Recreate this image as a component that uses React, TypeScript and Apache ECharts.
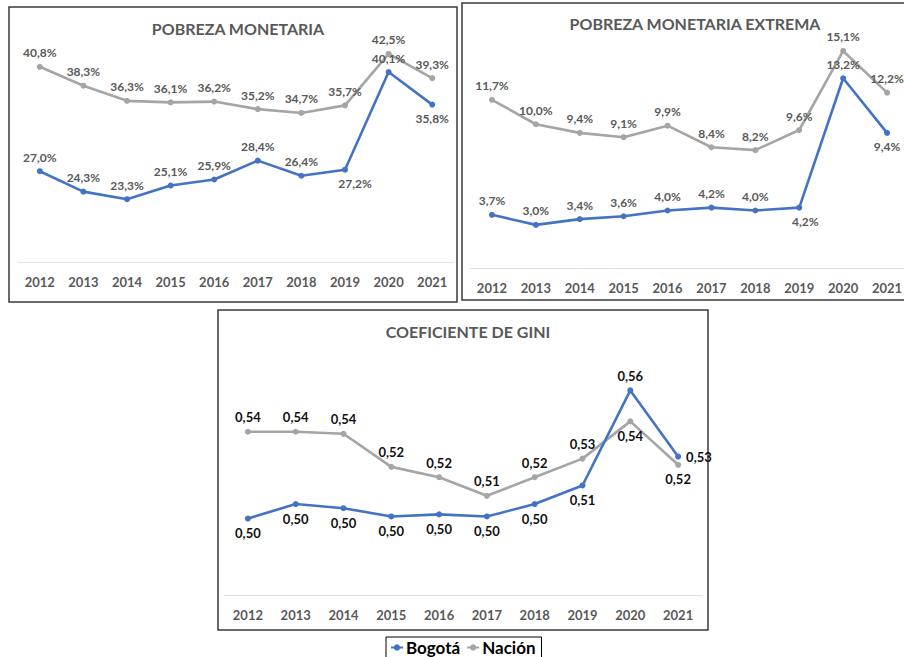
import React, { useEffect, useRef } from "react";
import * as echarts from "echarts";

const years = ["2012", "2013", "2014", "2015", "2016", "2017", "2018", "2019", "2020", "2021"];
const pobrezaBogota = [27.0, 24.3, 23.3, 25.1, 25.9, 28.4, 26.4, 27.2, 40.1, 35.8];
const pobrezaNacion = [40.8, 38.3, 36.3, 36.1, 36.2, 35.2, 34.7, 35.7, 42.5, 39.3];
const extremaBogota = [3.7, 3.0, 3.4, 3.6, 4.0, 4.2, 4.0, 4.2, 13.2, 9.4];
const extremaNacion = [11.7, 10.0, 9.4, 9.1, 9.9, 8.4, 8.2, 9.6, 15.1, 12.2];
const giniBogota = [0.497, 0.504, 0.502, 0.498, 0.499, 0.498, 0.504, 0.513, 0.559, 0.527];
const giniNacion = [0.539, 0.539, 0.538, 0.522, 0.517, 0.508, 0.517, 0.526, 0.544, 0.523];
const titles = ["POBREZA MONETARIA", "POBREZA MONETARIA EXTREMA", "COEFICIENTE DE GINI"];

const BLUE = "#4472C4";
const GRAY = "#A5A5A5";
const FONT = "Lato";

const pct = (v: number) => v.toFixed(1).replace(".", ",") + "%";
const dec = (v: number) => v.toFixed(2).replace(".", ",");

function buildData(values: number[], positions: Record<number, any>) {
  return values.map((v, i) =>
    positions[i] ? { value: v, label: positions[i] } : v
  );
}

export default function App() {
  const ref = useRef<HTMLDivElement>(null);
  useEffect(() => {
    if (!ref.current) return;
    const chart = echarts.init(ref.current, undefined, { renderer: "svg" });

    const grids = [
      { left: 18, top: 35, width: 436, height: 227 },
      { left: 470, top: 38, width: 439, height: 230 },
      { left: 224, top: 347, width: 478, height: 248 },
    ];
    const yRanges = [
      { min: 15, max: 45 },
      { min: 0, max: 16 },
      { min: 0.46, max: 0.58 },
    ];

    const labelBase = (color: string, fmt: (v: number) => string, size: number) => ({
      show: true,
      position: "top",
      color,
      fontFamily: FONT,
      fontWeight: "bold",
      fontSize: size,
      formatter: (p: any) => fmt(p.value),
    });

    const mk = (
      name: string,
      idx: number,
      values: number[],
      color: string,
      labelColor: string,
      fmt: (v: number) => string,
      defPos: string,
      positions: Record<number, any>,
      z: number
    ) => ({
      name,
      type: "line",
      xAxisIndex: idx,
      yAxisIndex: idx,
      data: buildData(values, positions),
      symbol: "circle",
      symbolSize: 6,
      z,
      itemStyle: { color },
      lineStyle: { color, width: 2.6 },
      label: { ...labelBase(labelColor, fmt, idx === 2 ? 13 : 12), position: defPos },
    });

    const series = [
      mk("Nación", 0, pobrezaNacion, GRAY, "#595959", pct, "top", {}, 2),
      mk("Bogotá", 0, pobrezaBogota, BLUE, "#595959", pct, "top", {
        7: { position: "bottom", offset: [10, 0] },
        9: { position: "bottom" },
      }, 3),
      mk("Nación", 1, extremaNacion, GRAY, "#595959", pct, "top", {}, 2),
      mk("Bogotá", 1, extremaBogota, BLUE, "#595959", pct, "top", {
        7: { position: "bottom", offset: [6, 0] },
        9: { position: "bottom" },
      }, 3),
      mk("Nación", 2, giniNacion, GRAY, "#111111", dec, "top", {
        8: { position: "bottom" },
        9: { position: "bottom" },
      }, 2),
      mk("Bogotá", 2, giniBogota, BLUE, "#111111", dec, "bottom", {
        8: { position: "top" },
        9: { position: "right" },
      }, 3),
    ];

    chart.setOption({
      animation: false,
      backgroundColor: "#ffffff",
      title: [
        { text: titles[0], left: 233, top: 15, textAlign: "center" },
        { text: titles[1], left: 690, top: 10, textAlign: "center" },
        { text: titles[2], left: 463, top: 318, textAlign: "center" },
      ].map((t) => ({
        ...t,
        textStyle: { color: "#595959", fontFamily: FONT, fontWeight: "bold", fontSize: 16 },
      })),
      grid: grids.map((g) => ({ ...g, containLabel: false })),
      xAxis: grids.map((_, i) => ({
        type: "category",
        gridIndex: i,
        data: years,
        boundaryGap: true,
        axisLine: { lineStyle: { color: "#E3E3E3", width: 1 } },
        axisTick: { show: false },
        axisLabel: {
          color: "#595959",
          fontFamily: FONT,
          fontWeight: "bold",
          fontSize: 13,
          margin: 13,
          interval: 0,
        },
      })),
      yAxis: yRanges.map((r, i) => ({
        type: "value",
        gridIndex: i,
        min: r.min,
        max: r.max,
        show: false,
        splitLine: { show: false },
      })),
      legend: {
        data: ["Bogotá", "Nación"],
        left: 386,
        top: 637,
        orient: "horizontal",
        borderColor: "#000000",
        borderWidth: 1,
        padding: [2, 6, 12, 4],
        itemGap: 6,
        itemWidth: 12,
        itemHeight: 8,
        textStyle: { color: "#000000", fontFamily: FONT, fontWeight: "bold", fontSize: 17, padding: [0, 0, 0, -2] },
      },
      graphic: [
        { type: "rect", shape: { x: 9, y: 7, width: 448, height: 295 } },
        { type: "rect", shape: { x: 462, y: 3, width: 470, height: 297 } },
        { type: "rect", shape: { x: 218, y: 310, width: 490, height: 320 } },
      ].map((r) => ({
        ...r,
        silent: true,
        style: { fill: "none", stroke: "#3a3a3a", lineWidth: 1.5 },
      })),
      series,
    });

    return () => chart.dispose();
  }, []);

  return (
    <div
      style={{ position: "fixed", left: 0, top: 0, width: 904, height: 657, overflow: "hidden", background: "#fff" }}
    >
      <div ref={ref} style={{ width: 940, height: 657 }} />
    </div>
  );
}
